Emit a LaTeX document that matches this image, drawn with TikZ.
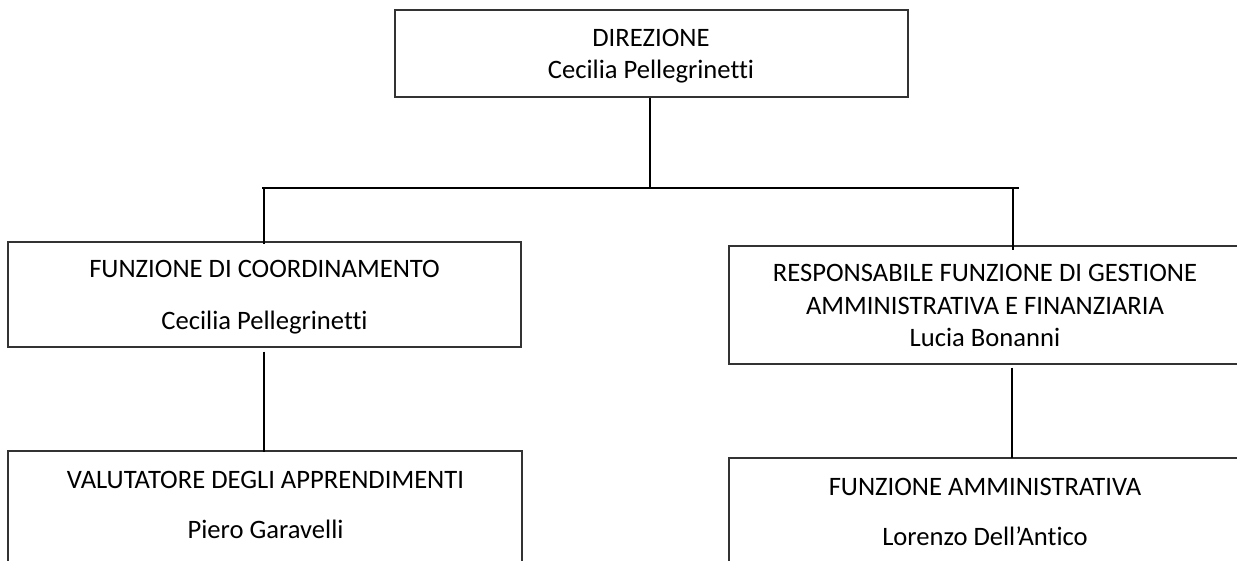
\documentclass[tikz,border=0pt]{standalone}
\usepackage{fontspec}
\setmainfont{Carlito}[Ligatures={NoCommon}]
\usetikzlibrary{calc}
\tikzset{
  orgbox/.style={draw=black!80, line width=1.3pt, rectangle, inner sep=0pt},
  conn/.style={draw=black, line width=1.9pt},
  txt/.style={anchor=base, inner sep=0pt, font=\fontsize{26.6}{32}\selectfont}
}
\begin{document}
\begin{tikzpicture}[x=1pt,y=-1pt]
\clip (0,0) rectangle (1237,561);
\fill[white] (0,0) rectangle (1237,561);
% boxes
\node[orgbox, minimum width=513pt, minimum height=87pt] (top) at (651.5,53.5) {};
\node[orgbox, minimum width=513pt, minimum height=105pt] (lbox) at (264.5,294.5) {};
\node[orgbox, minimum width=516pt, minimum height=118pt] (rbox) at (987,305) {};
\node[orgbox, minimum width=514pt, minimum height=129pt] (lbl) at (265,515.5) {};
\node[orgbox, minimum width=516pt, minimum height=122pt] (rbl) at (987,519) {};
% texts
\node[txt] (t1) at (651,46.7) {DIREZIONE};
\node[txt] (t2) at (651,79) {Cecilia Pellegrinetti};
\node[txt] (l1) at (264.5,278) {FUNZIONE DI COORDINAMENTO};
\node[txt] (l2) at (264.5,330) {Cecilia Pellegrinetti};
\node[txt] (r1) at (985,282) {RESPONSABILE FUNZIONE DI GESTIONE};
\node[txt] (r2) at (985,315) {AMMINISTRATIVA E FINANZIARIA};
\node[txt] (r3) at (985,347) {Lucia Bonanni};
\node[txt] (b1) at (265.5,488) {VALUTATORE DEGLI APPRENDIMENTI};
\node[txt] (b2) at (265.5,538) {Piero Garavelli};
\node[txt] (c1) at (985,495) {FUNZIONE AMMINISTRATIVA};
\node[txt] (c2) at (985,545) {Lorenzo Dell’Antico};
% connector coordinates
\coordinate (busL) at (262,188);
\coordinate (busR) at (1019,188);
\coordinate (lx) at (264,0);
\coordinate (rx) at (1013,0);
\coordinate (tx) at (650,0);
% connectors
\draw[conn] (tx |- top.south) -- (tx |- busL);
\draw[conn] (busL) -- (busR);
\draw[conn] (lx |- busL) -- ($(lx |- lbox.north)+(0,3)$);
\draw[conn] (rx |- busR) -- ($(rx |- rbox.north)+(0,5)$);
\draw[conn] ($(lx |- lbox.south)+(0,4)$) -- ($(lx |- lbl.north)+(0,2)$);
\draw[conn] ($(rx |- rbox.south)+(-1,3)$) -- ($(rx |- rbl.north)+(-1,1)$);
\end{tikzpicture}
\end{document}
